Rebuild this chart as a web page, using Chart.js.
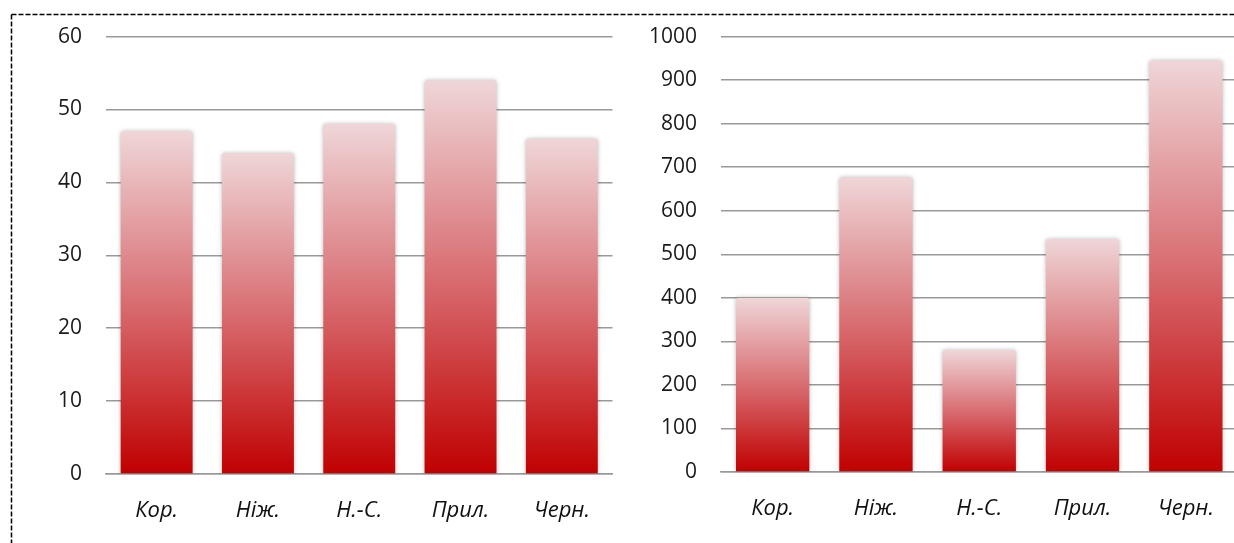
<!DOCTYPE html>
<html>
<head>
<meta charset="utf-8">
<script src="https://cdn.jsdelivr.net/npm/chart.js@4/dist/chart.umd.min.js"></script>
<style>
  html, body { margin: 0; padding: 0; background: #fff; width: 1234px; height: 543px; overflow: hidden; }
  .frame { position: absolute; left: 0; top: 0; }
  #leftBox { position: absolute; left: 0; top: 0; }
  #rightBox { position: absolute; left: 620px; top: 0; }
</style>
</head>
<body>
<svg class="frame" width="1234" height="543">
  <line x1="11.5" y1="14.5" x2="1234" y2="14.5" stroke="#000" stroke-width="1.5" stroke-dasharray="5 2"/>
  <line x1="11.5" y1="14.5" x2="11.5" y2="543" stroke="#000" stroke-width="1.5" stroke-dasharray="5 2"/>
</svg>
<div id="leftBox"><canvas id="leftChart" width="614" height="543"></canvas></div>
<div id="rightBox"><canvas id="rightChart" width="618" height="543"></canvas></div>
<script>
// Districts
const categories = ['Кор.', 'Ніж.', 'Н.-С.', 'Прил.', 'Черн.'];

// Left panel values
const leftValues = [47, 44, 48, 54, 46];
const leftTicks = { min: 0, max: 60, step: 10 };

// Right panel values
const rightValues = [400, 677, 280, 535, 945];
const rightTicks = { min: 0, max: 1000, step: 100 };

// Each bar fades from pale pink at its top to deep red at its base
function barGradient(ctx) {
  const chart = ctx.chart;
  const area = chart.chartArea;
  if (!area || ctx.parsed === undefined) return '#c00000';
  const y = chart.scales.y;
  const top = y.getPixelForValue(ctx.parsed.y);
  const base = y.getPixelForValue(0);
  const g = chart.ctx.createLinearGradient(0, top, 0, base);
  g.addColorStop(0, '#efd6d8');
  g.addColorStop(0.5, '#d86d71');
  g.addColorStop(1, '#c00000');
  return g;
}

// Soft glow around the bars
const barShadow = {
  id: 'barShadow',
  beforeDatasetsDraw(chart) {
    const c = chart.ctx;
    c.save();
    c.shadowColor = 'rgba(0,0,0,0.28)';
    c.shadowBlur = 4;
    c.shadowOffsetX = 0;
    c.shadowOffsetY = 0;
  },
  afterDatasetsDraw(chart) {
    chart.ctx.restore();
  }
};

function makeChart(id, values, ticks, yWidth, top, bottomH) {
  return new Chart(document.getElementById(id), {
    type: 'bar',
    data: {
      labels: categories,
      datasets: [{
        data: values,
        backgroundColor: barGradient,
        borderWidth: 0,
        borderRadius: { topLeft: 3, topRight: 3, bottomLeft: 0, bottomRight: 0 },
        borderSkipped: false,
        categoryPercentage: 1,
        barPercentage: 0.71
      }]
    },
    options: {
      responsive: false,
      animation: false,
      layout: { padding: { top: top, right: 0, bottom: 0, left: 0 } },
      plugins: { legend: { display: false }, tooltip: { enabled: false } },
      scales: {
        x: {
          grid: { display: false, drawTicks: false, tickLength: 0 },
          border: { display: true, color: '#999999', width: 1.5 },
          ticks: {
            padding: 24,
            color: '#111111',
            font: { family: '"Open Sans", sans-serif', size: 22, style: 'italic' }
          },
          afterFit(s) { s.height = bottomH; }
        },
        y: {
          min: ticks.min,
          max: ticks.max,
          grid: { color: '#999999', lineWidth: 1.5, drawTicks: false, tickLength: 0 },
          border: { display: false },
          ticks: {
            stepSize: ticks.step,
            padding: 24,
            color: '#1a1a1a',
            font: { family: '"Open Sans", sans-serif', size: 21 },
            callback: (v) => String(v)
          },
          afterFit(s) { s.width = yWidth; }
        }
      }
    },
    plugins: [barShadow]
  });
}

makeChart('leftChart', leftValues, leftTicks, 106, 34, 69);
makeChart('rightChart', rightValues, rightTicks, 101, 33, 71);
</script>
</body>
</html>
